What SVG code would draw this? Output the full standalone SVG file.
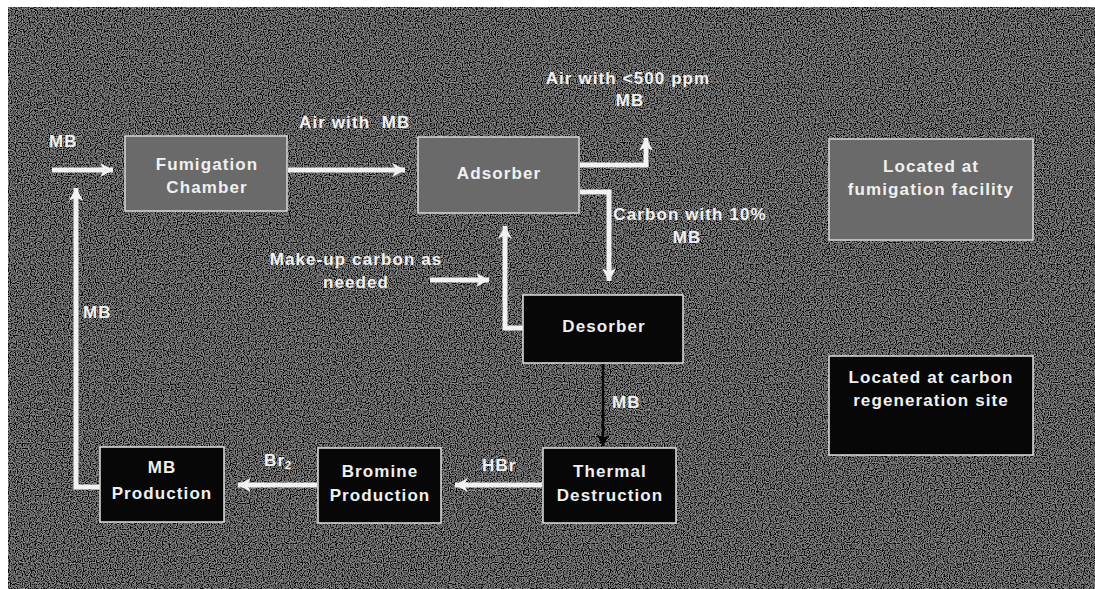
<svg xmlns="http://www.w3.org/2000/svg" width="1095" height="589" viewBox="0 0 1095 589">
<defs>
<filter id="noise" x="0" y="0" width="100%" height="100%">
<feTurbulence type="fractalNoise" baseFrequency="0.85" numOctaves="1" seed="4"/>
<feColorMatrix type="matrix" values="1.4 0 0 0 -0.55  1.4 0 0 0 -0.55  1.4 0 0 0 -0.55  0 0 0 0 1"/>
</filter>
<marker id="aw" viewBox="0 0 12 12" refX="10" refY="6" markerWidth="3.4" markerHeight="3.4" orient="auto" markerUnits="strokeWidth">
<path d="M1,1 L10,6 L1,11 L3.5,6 Z" fill="#f2f2f2"/>
</marker>
<marker id="ab" viewBox="0 0 12 12" refX="10" refY="6" markerWidth="6" markerHeight="6" orient="auto" markerUnits="strokeWidth">
<path d="M1,1 L10,6 L1,11 L3.5,6 Z" fill="#050505"/>
</marker>
<style>
.t{font-family:"Liberation Sans",Arial,sans-serif;font-weight:bold;font-size:17px;letter-spacing:1.1px;fill:#f0f0f0;text-anchor:middle}
.tl{text-anchor:start}
.grey{fill:#6a6a6a;stroke:#d8d8d8;stroke-width:1.5}
.black{fill:#070707;stroke:#e0e0e0;stroke-width:1.5}
.w{fill:none;stroke:#f2f2f2;stroke-width:5;marker-end:url(#aw)}
.b{fill:none;stroke:#050505;stroke-width:2.5;marker-end:url(#ab)}
</style>
</defs>
<rect x="0" y="0" width="1095" height="589" fill="#ffffff"/>
<rect x="8" y="7" width="1087" height="582" fill="#2a2a2a"/>
<rect x="8" y="7" width="1087" height="582" filter="url(#noise)" opacity="0.8"/>

<g id="connectors">
<path class="w" d="M52,170 H113"/>
<path class="w" d="M288,170 H405"/>
<path class="w" d="M580,165 H646 V138"/>
<path class="w" d="M580,192 H609 V281"/>
<path class="w" d="M430,280 H489"/>
<path class="w" d="M523,328 H505 V226"/>
<path class="b" d="M603,364 V446"/>
<path class="w" d="M542,485 H455"/>
<path class="w" d="M317,485 H238"/>
<path class="w" d="M100,487 H76 V188"/>
</g>

<g id="labels">
<text class="t tl" x="49" y="147">MB</text>
<text class="t tl" x="299" y="128" xml:space="preserve">Air with  MB</text>
<text class="t" x="628" y="84">Air with &lt;500 ppm</text>
<text class="t" x="630" y="106">MB</text>
<text class="t" x="690" y="220">Carbon with 10%</text>
<text class="t" x="687" y="243">MB</text>
<text class="t" x="356" y="265">Make-up carbon as</text>
<text class="t" x="356" y="288">needed</text>
<text class="t tl" x="83" y="318">MB</text>
<text class="t tl" x="612" y="408">MB</text>
<text class="t tl" x="482" y="471">HBr</text>
<text class="t tl" x="264" y="466">Br<tspan font-size="11" dy="3">2</tspan></text>
</g>

<g id="fumigation-chamber">
<rect class="grey" x="125" y="136" width="162" height="75"/>
<text class="t" x="207" y="170">Fumigation</text>
<text class="t" x="207" y="193">Chamber</text>
</g>
<g id="adsorber">
<rect class="grey" x="418" y="137" width="161" height="76"/>
<text class="t" x="499" y="179">Adsorber</text>
</g>
<g id="desorber">
<rect class="black" x="523" y="295" width="160" height="68"/>
<text class="t" x="604" y="332">Desorber</text>
</g>
<g id="thermal-destruction">
<rect class="black" x="543" y="448" width="133" height="75"/>
<text class="t" x="610" y="477">Thermal</text>
<text class="t" x="610" y="501">Destruction</text>
</g>
<g id="bromine-production">
<rect class="black" x="318" y="448" width="123" height="75"/>
<text class="t" x="380" y="477">Bromine</text>
<text class="t" x="380" y="501">Production</text>
</g>
<g id="mb-production">
<rect class="black" x="100" y="447" width="124" height="75"/>
<text class="t" x="162" y="473">MB</text>
<text class="t" x="162" y="499">Production</text>
</g>
<g id="legend-fumigation">
<rect class="grey" x="829" y="139" width="204" height="101"/>
<text class="t" x="931" y="172">Located at</text>
<text class="t" x="931" y="195">fumigation facility</text>
</g>
<g id="legend-regeneration">
<rect class="black" x="829" y="356" width="204" height="99"/>
<text class="t" x="931" y="383">Located at carbon</text>
<text class="t" x="931" y="406">regeneration site</text>
</g>
</svg>
